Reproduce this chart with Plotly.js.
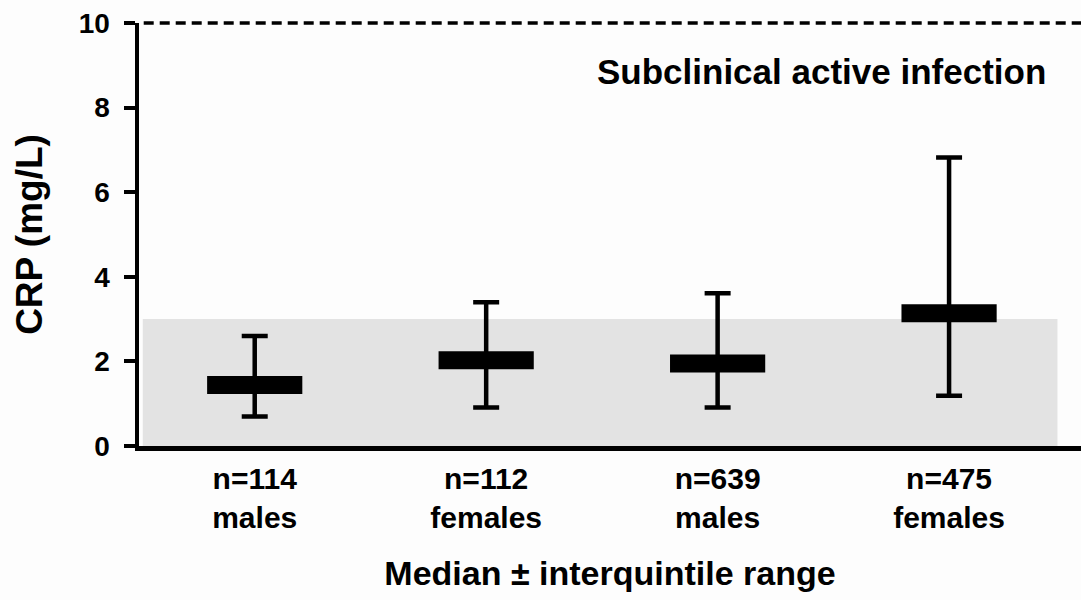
<!DOCTYPE html>
<html>
<head>
<meta charset="utf-8">
<script src="https://cdn.plot.ly/plotly-3.0.1.min.js"></script>
<style>html,body{margin:0;padding:0;background:#fdfdfd;}#chart{width:1081px;height:600px;}</style>
</head>
<body>
<div id="chart"></div>
<script>
// Data
const categories = ["n=114<br>males", "n=112<br>females", "n=639<br>males", "n=475<br>females"];
const medians = [1.44, 2.03, 1.95, 3.14];
const upperQuintile = [2.60, 3.40, 3.61, 6.82];
const lowerQuintile = [0.70, 0.91, 0.91, 1.19];
const yTicks = [0, 2, 4, 6, 8, 10];
const yRange = [0, 10];
const referenceBand = [0, 3];      // shaded normal range (mg/L)
const infectionThreshold = 10;     // dashed line (mg/L)
const bandLabel = "Subclinical active infection";

const plus = upperQuintile.map((u, i) => u - medians[i]);
const minus = lowerQuintile.map((l, i) => medians[i] - l);

const FONT = "Liberation Sans, Arial, Helvetica, sans-serif";

const trace = {
  type: "scatter",
  mode: "markers",
  x: categories,
  y: medians,
  marker: {
    symbol: "line-ew",
    size: 68,
    color: "#000",
    line: {color: "#000", width: 18}
  },
  error_y: {
    type: "data",
    symmetric: false,
    array: plus,
    arrayminus: minus,
    color: "#000",
    thickness: 4.5,
    width: 13
  },
  hoverinfo: "skip",
  cliponaxis: false,
  showlegend: false
};

// threshold position in paper units (so the line is not clipped at the plot's top edge)
const thresholdPaper = (infectionThreshold - yRange[0]) / (yRange[1] - yRange[0]);

const layout = {
  width: 1081,
  height: 600,
  margin: {l: 139, r: 0, t: 23, b: 154},
  paper_bgcolor: "#fdfdfd",
  plot_bgcolor: "#fdfdfd",
  font: {family: FONT, color: "#000", weight: "bold", size: 28},
  showlegend: false,
  xaxis: {
    type: "category",
    range: [-0.5, 3.57],
    showline: true,
    linecolor: "#000",
    linewidth: 4.5,
    ticks: "",
    showgrid: false,
    zeroline: false,
    tickfont: {family: FONT, size: 30, weight: "bold", color: "#000"},
    ticklabelstandoff: 2,
    automargin: false,
    title: {text: "Median ± interquintile range", font: {family: FONT, size: 34, weight: "bold", color: "#000"}, standoff: 30}
  },
  yaxis: {
    range: yRange,
    tickvals: yTicks,
    showline: true,
    linecolor: "#000",
    linewidth: 4.5,
    ticks: "outside",
    ticklen: 11,
    tickwidth: 4,
    tickcolor: "#000",
    showgrid: false,
    zeroline: false,
    tickfont: {family: FONT, size: 28, weight: "bold", color: "#000"},
    ticklabelstandoff: 8,
    automargin: false,
    title: {text: "CRP (mg/L)", font: {family: FONT, size: 37, weight: "bold", color: "#000"}, standoff: 26}
  },
  shapes: [
    {type: "rect", layer: "below", xref: "paper", yref: "y", x0: 0.004, x1: 0.975,
     y0: referenceBand[0], y1: referenceBand[1], fillcolor: "#e3e3e3", line: {width: 0}},
    {type: "line", layer: "above", xref: "paper", yref: "paper", x0: 0.005, x1: 1,
     y0: thresholdPaper, y1: thresholdPaper, line: {color: "#000", width: 3.5, dash: "10px,6px"}}
  ],
  annotations: [
    {text: bandLabel, xref: "paper", yref: "y", x: 0.725, y: 8.85, xanchor: "center", yanchor: "middle",
     showarrow: false, font: {family: FONT, size: 35, weight: "bold", color: "#000"}}
  ]
};

Plotly.newPlot("chart", [trace], layout, {displayModeBar: false, staticPlot: true});
</script>
</body>
</html>
